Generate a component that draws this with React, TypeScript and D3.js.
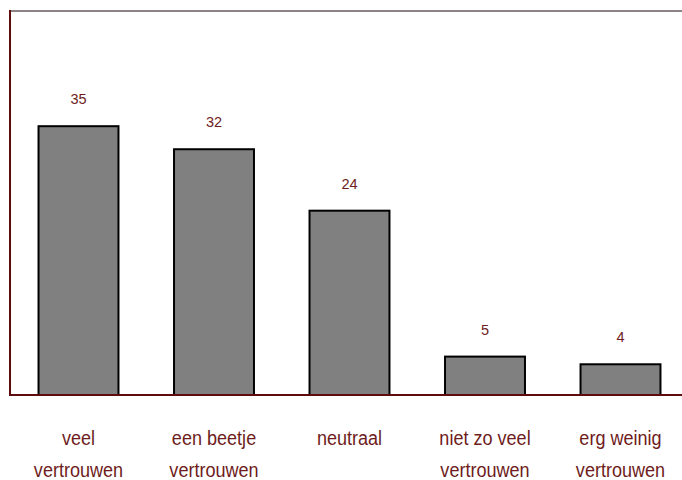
import React from "react";
import * as d3 from "d3";

const categories: string[][] = [
  ["veel", "vertrouwen"],
  ["een beetje", "vertrouwen"],
  ["neutraal"],
  ["niet zo veel", "vertrouwen"],
  ["erg weinig", "vertrouwen"],
];
const values: number[] = [35, 32, 24, 5, 4];
const yMax = 50;

const W = 682;
const H = 480;

export default function App() {
  const x = d3
    .scaleBand<number>()
    .domain(values.map((_, i) => i))
    .range([10.75, 688.25])
    .paddingInner(0.41)
    .paddingOuter(0.205);
  const y = d3.scaleLinear().domain([0, yMax]).range([395, 11]);
  const textColor = "#6e1c1c";
  const axisColor = "#5e0c0c";

  return (
    <svg
      width={W}
      height={H}
      style={{ position: "absolute", left: 0, top: 0, background: "#fff" }}
      fontFamily="'Liberation Sans', Arial, sans-serif"
    >
      <line x1={10} x2={W} y1={y(yMax)} y2={y(yMax)} stroke="#8c8484" strokeWidth={2} />
      {values.map((v, i) => {
        const bx = x(i)!;
        const bw = x.bandwidth();
        return (
          <g key={i}>
            <rect
              x={bx}
              y={y(v)}
              width={bw}
              height={y(0) - y(v)}
              fill="#808080"
              stroke="#000"
              strokeWidth={2}
            />
            <text
              x={bx + bw / 2}
              y={y(v) - 22}
              textAnchor="middle"
              fontSize={14.5}
              fill={textColor}
            >
              {v}
            </text>
          </g>
        );
      })}
      <line x1={10} x2={W} y1={y(0)} y2={y(0)} stroke={axisColor} strokeWidth={2} />
      <line x1={10} x2={10} y1={y(yMax) - 1} y2={y(0) + 1} stroke={axisColor} strokeWidth={2} />
      {categories.map((lines, i) => {
        const cx = x(i)! + x.bandwidth() / 2;
        return (
          <g key={i}>
            {lines.map((t, j) => (
              <text
                key={j}
                transform={`translate(${cx},${445 + j * 31.5}) scale(0.86,1)`}
                textAnchor="middle"
                fontSize={21}
                fill={textColor}
              >
                {t}
              </text>
            ))}
          </g>
        );
      })}
    </svg>
  );
}
